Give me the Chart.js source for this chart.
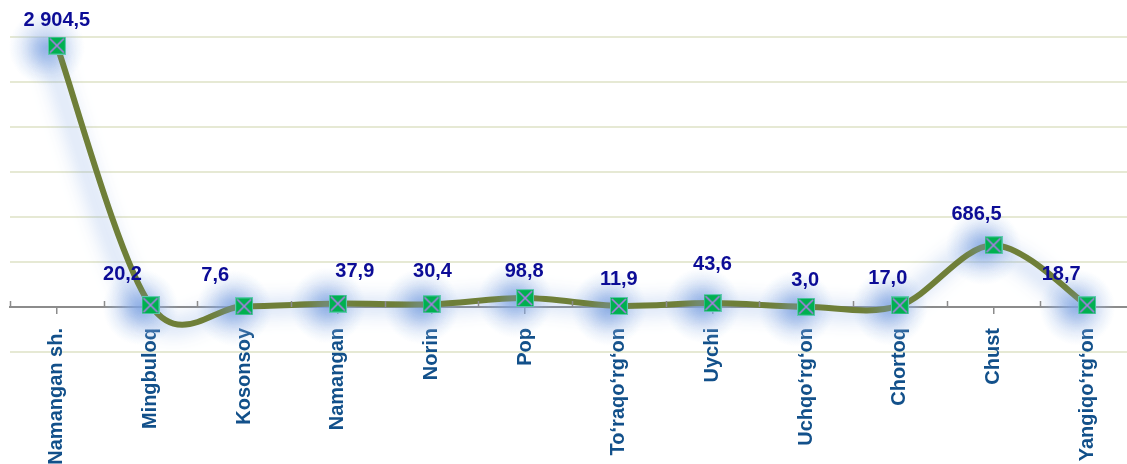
<!DOCTYPE html>
<html>
<head>
<meta charset="utf-8">
<script src="https://cdn.jsdelivr.net/npm/chart.js@4"></script>
<style>
  html, body { margin: 0; padding: 0; background: #fff; width: 1127px; height: 464px; overflow: hidden; }
  #wrap { width: 1127px; height: 464px; position: relative; }
</style>
</head>
<body>
<div id="wrap"><canvas id="districtChart"></canvas></div>
<script>
// districts and values
const districts = ['Namangan sh.', 'Mingbuloq', 'Kosonsoy', 'Namangan', 'Norin', 'Pop',
  'To‘raqo‘rg‘on', 'Uychi', 'Uchqo‘rg‘on', 'Chortoq', 'Chust', 'Yangiqo‘rg‘on'];
const values = [2904.5, 20.2, 7.6, 37.9, 30.4, 98.8, 11.9, 43.6, 3.0, 17.0, 686.5, 18.7];
const yTicks = [-500, 0, 500, 1000, 1500, 2000, 2500, 3000];

// where each value label sits relative to its point (px)
const labelShift = [[0, -25], [-28, -31], [-29, -31], [17, -32], [1, -33], [-1, -27],
  [0, -26], [0, -39], [-1, -26], [-12, -27], [-17, -31], [-26, -31]];

function fmt(v) {
  const parts = v.toFixed(1).split('.');
  const whole = parts[0].replace(/\B(?=(\d{3})+(?!\d))/g, ' ');
  return whole + ',' + parts[1];
}

// green square marker with a violet cross
function makeMarker() {
  const c = document.createElement('canvas');
  c.width = 18; c.height = 18;
  const g = c.getContext('2d');
  g.fillStyle = '#00b050';
  g.fillRect(0, 0, 18, 18);
  g.strokeStyle = '#5fc8b0';
  g.lineWidth = 1;
  g.strokeRect(0.5, 0.5, 17, 17);
  g.strokeStyle = '#b07ce8';
  g.lineWidth = 1.6;
  g.beginPath();
  g.moveTo(2, 2); g.lineTo(16, 16);
  g.moveTo(16, 2); g.lineTo(2, 16);
  g.stroke();
  return c;
}

// spreadsheet-like smoothing: control points from neighbours / 6
const smoothPlugin = {
  id: 'smooth',
  beforeDatasetsDraw(chart) {
    const meta = chart.getDatasetMeta(0);
    meta.dataset.updateControlPoints(chart.chartArea, meta.iScale.axis);
    const pts = meta.data;
    const n = pts.length;
    for (let i = 0; i < n; i++) {
      const p = pts[i];
      const a = pts[Math.max(i - 1, 0)];
      const b = pts[Math.min(i + 1, n - 1)];
      const dx = (b.x - a.x) / 6, dy = (b.y - a.y) / 6;
      p.cp1x = p.x - dx; p.cp1y = p.y - dy;
      p.cp2x = p.x + dx; p.cp2y = p.y + dy;
    }
    meta.dataset._path = undefined;
  }
};

// soft blue halo, shifted a little to the left like the original
const glowPlugin = {
  id: 'glow',
  beforeDatasetsDraw(chart) {
    const ctx = chart.ctx;
    const meta = chart.getDatasetMeta(0);
    ctx.save();
    meta.data.forEach(pt => {
      const cx = pt.x - 10, cy = pt.y + 2;
      const grad = ctx.createRadialGradient(cx, cy, 2, cx, cy, 38);
      grad.addColorStop(0, 'rgba(140, 172, 228, 0.7)');
      grad.addColorStop(0.5, 'rgba(155, 183, 232, 0.35)');
      grad.addColorStop(1, 'rgba(175, 200, 240, 0)');
      ctx.fillStyle = grad;
      ctx.fillRect(cx - 40, cy - 40, 80, 80);
    });
    ctx.restore();
    ctx.save();
    ctx.shadowColor = 'rgba(120, 160, 225, 0.85)';
    ctx.shadowBlur = 20;
    ctx.shadowOffsetX = -10;
    ctx.shadowOffsetY = 2;
  },
  afterDatasetsDraw(chart) {
    chart.ctx.restore();
  }
};

// small upward ticks between categories
const boundaryTicks = {
  id: 'boundaryTicks',
  afterDraw(chart) {
    const xs = chart.scales.x;
    const y0 = chart.scales.y.getPixelForValue(0);
    const half = (xs.getPixelForTick(1) - xs.getPixelForTick(0)) / 2;
    const ctx = chart.ctx;
    ctx.save();
    ctx.strokeStyle = '#8c8c8c';
    ctx.lineWidth = 1.5;
    ctx.beginPath();
    for (let i = 0; i <= districts.length; i++) {
      const x = Math.round(xs.getPixelForTick(0) - half + i * half * 2) + 0.5;
      ctx.moveTo(x, y0 - 6);
      ctx.lineTo(x, y0);
    }
    ctx.stroke();
    ctx.restore();
  }
};

const valueLabels = {
  id: 'valueLabels',
  afterDraw(chart) {
    const ctx = chart.ctx;
    const meta = chart.getDatasetMeta(0);
    ctx.save();
    ctx.font = 'bold 20px "Liberation Sans", Arial, sans-serif';
    ctx.fillStyle = '#0c0c96';
    ctx.textAlign = 'center';
    ctx.textBaseline = 'middle';
    meta.data.forEach((pt, i) => {
      const s = labelShift[i];
      ctx.fillText(fmt(values[i]), pt.x + s[0], pt.y + s[1]);
    });
    ctx.restore();
  }
};

const ctx = document.getElementById('districtChart').getContext('2d');
const districtChart = new Chart(ctx, {
  type: 'line',
  data: {
    labels: districts,
    datasets: [{
      data: values,
      borderColor: '#6f7f38',
      borderWidth: 6,
      tension: 0.4,
      pointStyle: makeMarker(),
      pointRadius: 9,
      fill: false
    }]
  },
  options: {
    responsive: true,
    maintainAspectRatio: false,
    animation: false,
    layout: { padding: { left: 10, right: 0, top: 37, bottom: 112 } },
    plugins: {
      legend: { display: false },
      tooltip: { enabled: false }
    },
    scales: {
      x: {
        position: { y: 0 },
        offset: true,
        grid: {
          drawOnChartArea: false,
          offset: false,
          tickLength: 6,
          color: '#8c8c8c',
          lineWidth: 1.5
        },
        border: { color: '#8c8c8c', width: 2 },
        ticks: {
          autoSkip: false,
          minRotation: 90,
          maxRotation: 90,
          padding: 15,
          color: '#12508a',
          font: { family: '"Liberation Sans", Arial, sans-serif', size: 20, weight: 'bold' }
        }
      },
      y: {
        min: yTicks[0],
        max: yTicks[yTicks.length - 1],
        afterBuildTicks(scale) {
          scale.ticks = yTicks.map(v => ({ value: v }));
        },
        afterFit(scale) { scale.width = 0; },
        ticks: { display: false },
        border: { display: false },
        grid: { color: '#e6e9d4', lineWidth: 2, drawTicks: false }
      }
    }
  },
  plugins: [smoothPlugin, glowPlugin, boundaryTicks, valueLabels]
});

// match the reference plot area: left edge at 10px, categories run past the right edge
const area = districtChart.chartArea;
const shift = area.left - 10;
const rightGap = 1127 - area.right;
const wrap = document.getElementById('wrap');
wrap.style.marginLeft = (-shift) + 'px';
wrap.style.width = (1134 + shift + rightGap) + 'px';
districtChart.resize();
</script>
</body>
</html>
